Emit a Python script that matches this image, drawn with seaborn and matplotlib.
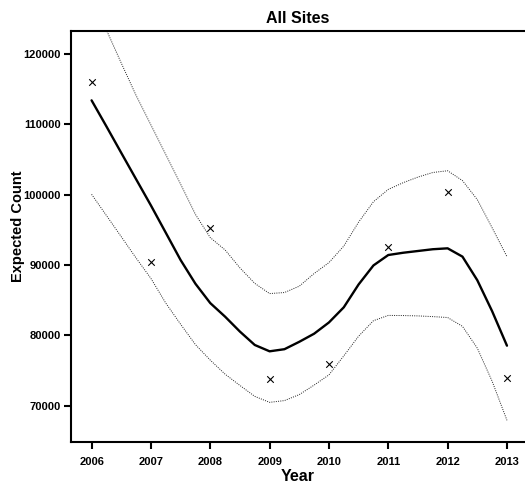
import numpy as np
import pandas as pd
import matplotlib
matplotlib.use("Agg")
import matplotlib.pyplot as plt
import seaborn as sns

# observed counts (crosses)
obs_years = [2006, 2007, 2008, 2009, 2010, 2011, 2012, 2013]
obs_counts = [116000, 90400, 95300, 73750, 76000, 92630, 100450, 73950]

# fitted curve and confidence band, read at quarter-year steps
curve_years = [2006.00, 2006.25, 2006.50, 2006.75, 2007.00, 2007.25, 2007.50, 2007.75,
               2008.00, 2008.25, 2008.50, 2008.75, 2009.00, 2009.25, 2009.50, 2009.75,
               2010.00, 2010.25, 2010.50, 2010.75, 2011.00, 2011.25, 2011.50, 2011.75,
               2012.00, 2012.25, 2012.50, 2012.75, 2013.00]
fit_values = [113400, 109700, 105940, 102200, 98470, 94600, 90720, 87350,
              84600, 82670, 80550, 78650, 77750, 78050, 79100, 80250,
              81850, 84000, 87250, 89950, 91430, 91750, 92000, 92250,
              92380, 91200, 87850, 83450, 78550]
upper_values = [127800, 123400, 118700, 114100, 109900, 105700, 101500, 97200,
                93900, 92150, 89600, 87400, 85950, 86100, 87000, 88800,
                90350, 92700, 96100, 99000, 100750, 101700, 102500, 103150,
                103400, 102000, 99300, 95300, 91200]
lower_values = [100050, 97040, 94030, 91000, 88100, 84600, 81600, 78700,
                76500, 74500, 72900, 71350, 70500, 70750, 71600, 72950,
                74400, 77100, 79900, 82100, 82850, 82830, 82780, 82680,
                82550, 81300, 78200, 73500, 67950]

y_ticks = [70000, 80000, 90000, 100000, 110000, 120000]

sns.set_theme(style="ticks")
plt.rcParams['font.family'] = ['Liberation Sans', 'DejaVu Sans']
plt.rcParams['text.color'] = 'black'
plt.rcParams['axes.labelcolor'] = 'black'
plt.rcParams['xtick.color'] = 'black'
plt.rcParams['ytick.color'] = 'black'

df_curve = pd.DataFrame({"Year": curve_years, "fit": fit_values,
                         "upper": upper_values, "lower": lower_values})
df_obs = pd.DataFrame({"Year": obs_years, "Count": obs_counts})

fig = plt.figure(figsize=(5.25, 4.88), dpi=100)
ax = fig.add_axes([0.135, 0.0943, 0.865, 0.8422])

sns.lineplot(data=df_curve, x="Year", y="upper", ax=ax, color="#222222",
             linestyle=(0, (1, 1.3)), linewidth=0.7, estimator=None, sort=False)
sns.lineplot(data=df_curve, x="Year", y="lower", ax=ax, color="#222222",
             linestyle=(0, (1, 1.3)), linewidth=0.7, estimator=None, sort=False)
sns.lineplot(data=df_curve, x="Year", y="fit", ax=ax, color="black",
             linewidth=1.7, estimator=None, sort=False,
             solid_joinstyle="round")
sns.scatterplot(data=df_obs, x="Year", y="Count", ax=ax, marker="x", s=22,
                color="black", linewidth=0.8)

ax.set_xlim(2005.651, 2013.304)
ax.set_ylim(64870, 123253)
ax.set_xticks(obs_years)
ax.set_xticklabels([str(y) for y in obs_years])
ax.set_yticks(y_ticks)
ax.set_yticklabels([str(v) for v in y_ticks])

for side in ["left", "top", "bottom"]:
    ax.spines[side].set_visible(True)
    ax.spines[side].set_linewidth(1.5)
    ax.spines[side].set_color("black")
ax.spines["right"].set_visible(False)

ax.tick_params(axis="both", direction="out", length=5, width=1.5, color="black",
               labelsize=8, pad=2.5, labelcolor="black")
ax.tick_params(axis="x", pad=6)
for lbl in ax.get_xticklabels() + ax.get_yticklabels():
    lbl.set_fontweight("bold")

ax.set_xlabel("Year", fontsize=11.5, fontweight="bold", color="black")
ax.set_ylabel("Expected Count", fontsize=10.5, fontweight="bold", color="black")
ax.yaxis.set_label_coords(-0.117, 0.526)
ax.xaxis.set_label_coords(0.5, -0.083)
ax.xaxis.label.set_verticalalignment("center")
ax.yaxis.label.set_verticalalignment("center")
ax.set_title("All Sites", fontsize=11.5, fontweight="bold", pad=6, color="black")

fig.savefig("out.png", dpi=100, facecolor="white")
